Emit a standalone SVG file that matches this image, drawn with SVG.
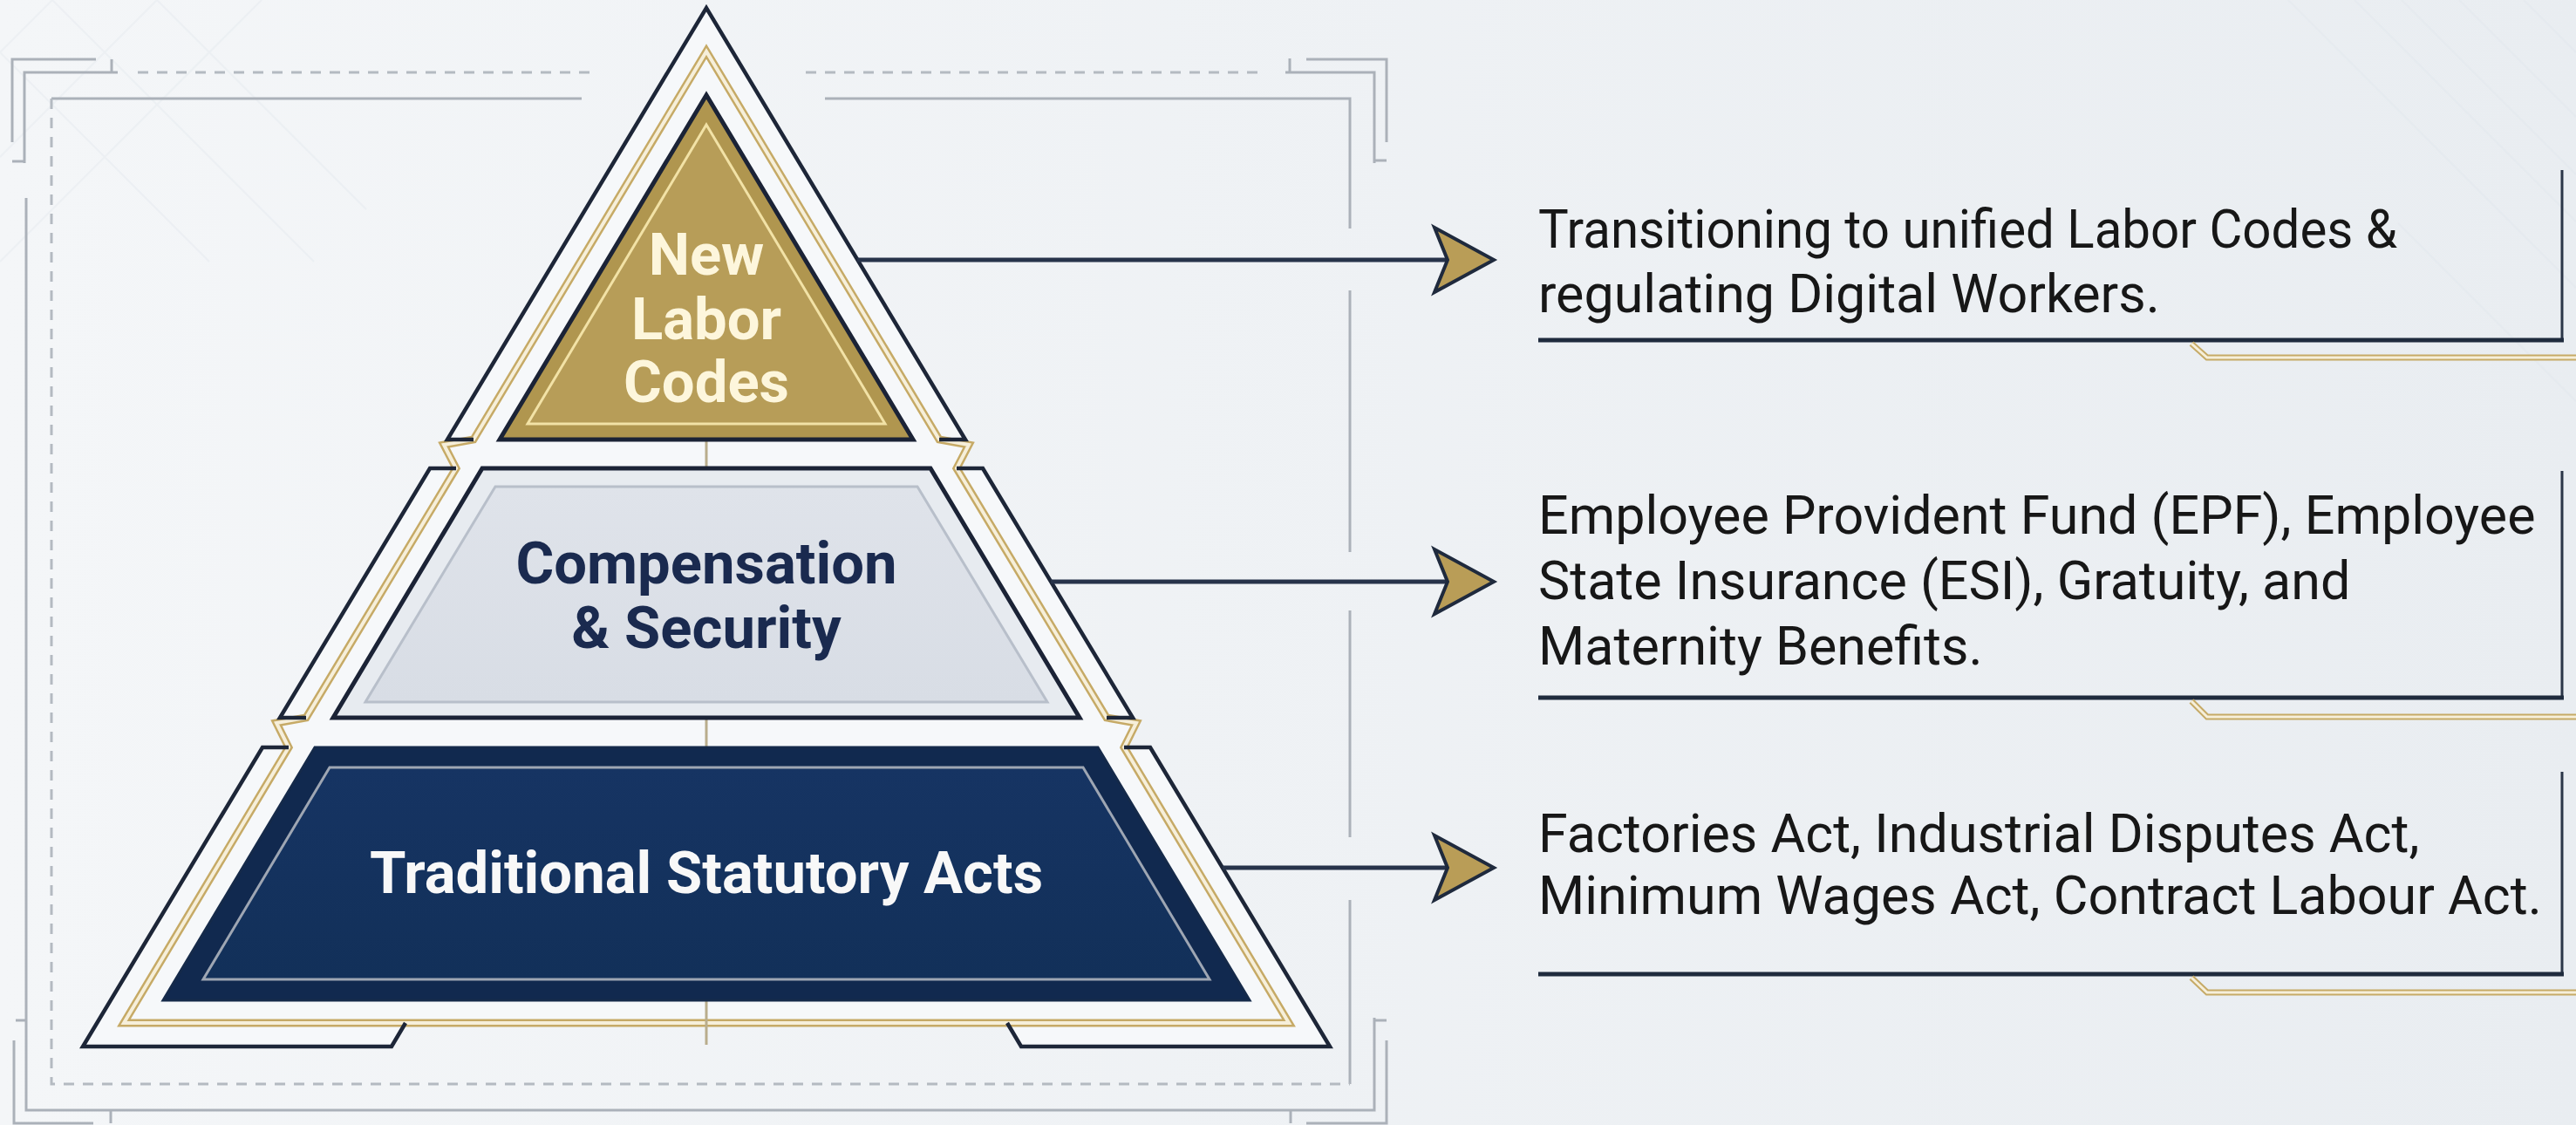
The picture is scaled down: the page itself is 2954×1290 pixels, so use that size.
<svg xmlns="http://www.w3.org/2000/svg" width="2954" height="1290" viewBox="0 0 2954 1290">
  <defs>
    <linearGradient id="bg" x1="0" y1="0" x2="1" y2="0">
      <stop offset="0" stop-color="#f4f6f8"/>
      <stop offset="1" stop-color="#e9edf1"/>
    </linearGradient>
    <linearGradient id="tier2Fill" x1="0" y1="0" x2="0" y2="1">
      <stop offset="0" stop-color="#dfe3ea"/>
      <stop offset="1" stop-color="#d8dde5"/>
    </linearGradient>
    <linearGradient id="tier3Fill" x1="0" y1="0" x2="0" y2="1">
      <stop offset="0" stop-color="#163463"/>
      <stop offset="1" stop-color="#123059"/>
    </linearGradient>
    <style>
      .frame { fill: none; stroke: #abb1b9; stroke-width: 3; }
      .dash { fill: none; stroke: #b4bac1; stroke-width: 3; stroke-dasharray: 12 10; }
      .outline { fill: none; stroke: #1d2638; stroke-width: 4.5; stroke-linejoin: miter; }
      .goldEdge { fill: none; stroke: #c6aa66; stroke-width: 9; stroke-linejoin: miter; }
      .goldCore { fill: none; stroke: #f6efda; stroke-width: 4; stroke-linejoin: miter; }
      .stem { stroke: #b9ad8c; stroke-width: 3; }
      .link { fill: none; stroke: #27334a; stroke-width: 5; }
      .head { fill: #b99d57; stroke: #1f2a3d; stroke-width: 4; stroke-linejoin: miter; }
      .label { font-family: Roboto, "Liberation Sans", Arial, sans-serif; font-weight: 700; font-size: 67px; text-anchor: middle; }
      .desc { font-family: Roboto, "Liberation Sans", Arial, sans-serif; font-size: 61px; fill: #171717; }
      .boxLine { fill: none; stroke: #1f2b3d; stroke-width: 5; }
      .boxSide { fill: none; stroke: #2a3547; stroke-width: 3; }
      .lattice { fill: none; stroke: #dfe4ea; stroke-width: 2; }
    </style>
  </defs>

  <!-- background -->
  <rect width="2954" height="1290" fill="url(#bg)"/>
  <g id="lattice" opacity="0.35">
    <path class="lattice" d="M0,60 L60,0 M0,180 L180,0 M0,300 L300,0 M60,0 L360,300 M0,60 L240,300 M180,0 L420,240"/>
    <path class="lattice" d="M2700,0 L2954,254 M2820,0 L2954,134 M2954,60 L2894,0 M2954,200 L2754,0 M2954,330 L2624,0 M2954,460 L2750,256"/>
  </g>

  <!-- decorative frame around the pyramid -->
  <g id="frame">
    <path class="frame" d="M110,68 H14 V163"/>
    <path class="frame" d="M135,83 H28 V187"/>
    <path class="frame" d="M128,68 V83 M14,185 H28"/>
    <path class="dash" d="M158,83 H686 M924,83 H1448"/>
    <path class="frame" d="M667,113 H59 M946,113 H1548 V262 M1548,333 V633 M1548,700 V960 M1548,1032 V1243"/>
    <path class="dash" d="M59,113 V1243 H1548"/>
    <path class="frame" d="M30,227 V1273 H1576 V1167"/>
    <path class="frame" d="M18,1170 H30 M1576,1170 H1590"/>
    <path class="frame" d="M16,1193 V1288 H107 M127,1273 V1288"/>
    <path class="frame" d="M1590,1193 V1288 H1498 M1480,1273 V1288"/>
    <path class="frame" d="M1498,68 H1590 V163"/>
    <path class="frame" d="M1474,83 H1576 V187"/>
    <path class="frame" d="M1479,67 V83 M1576,184 H1590"/>
  </g>

  <!-- pale body of the pyramid behind the tiers -->
  <path id="pyramid-body" fill="#f6f8fa" d="M810,9 L1107,504 L1077,504 L1111,510 L1097,537 L1127,537 L1299,823 L1269,823 L1303,829 L1289,857 L1319,857 L1525,1200 L1171,1200 L1155,1173 L465,1173 L449,1200 L95,1200 L301,857 L331,857 L317,829 L351,823 L321,823 L493,537 L523,537 L509,510 L543,504 L513,504 Z"/>

  <!-- gold rail running down both flanks and across the base -->
  <g id="gold-rail">
    <path class="goldEdge" d="M810,59 L543,504 L509,510 L523,537 L351,823 L317,829 L331,857 L142,1173 L1478,1173 L1289,857 L1303,829 L1269,823 L1097,537 L1111,510 L1077,504 Z"/>
    <path class="goldCore" d="M810,59 L543,504 L509,510 L523,537 L351,823 L317,829 L331,857 L142,1173 L1478,1173 L1289,857 L1303,829 L1269,823 L1097,537 L1111,510 L1077,504 Z"/>
  </g>

  <!-- outer dark outlines of each tier -->
  <g id="tier-outlines">
    <path class="outline" d="M543,504 H513 L810,9 L1107,504 H1077"/>
    <path class="outline" d="M523,537 H493 L321,823 H351"/>
    <path class="outline" d="M1097,537 H1127 L1299,823 H1269"/>
    <path class="outline" d="M331,857 H301 L95,1200 H449 L465,1173"/>
    <path class="outline" d="M1289,857 H1319 L1525,1200 H1171 L1155,1173"/>
  </g>

  <!-- centre stems between tiers -->
  <g id="stems">
    <line class="stem" x1="810" y1="504" x2="810" y2="537"/>
    <line class="stem" x1="810" y1="823" x2="810" y2="857"/>
    <line class="stem" x1="810" y1="1147" x2="810" y2="1198"/>
  </g>

  <g id="node-new-labor-codes">
    <polygon points="810,109 1047,504 573,504" fill="#b0964f" stroke="#1b2336" stroke-width="5"/>
    <polygon points="810,143 1015,486 605,486" fill="#b79d58" stroke="#f2e2a6" stroke-width="3"/>
    <text class="label" fill="#fdf6dc" x="810" y="315">New</text>
    <text class="label" fill="#fdf6dc" x="810" y="389">Labor</text>
    <text class="label" fill="#fdf6dc" x="810" y="461">Codes</text>
  </g>

  <g id="node-compensation-security">
    <polygon points="553,537 1067,537 1238,823 382,823" fill="#e7ebf0" stroke="#1b2336" stroke-width="5"/>
    <polygon points="568,558 1052,558 1201,805 419,805" fill="url(#tier2Fill)" stroke="#b8bfca" stroke-width="3"/>
    <text class="label" fill="#1a2a4f" x="810" y="669">Compensation</text>
    <text class="label" fill="#1a2a4f" x="810" y="743">&amp; Security</text>
  </g>

  <g id="node-traditional-acts">
    <polygon points="361,857 1259,857 1433,1147 187,1147" fill="#11294f" stroke="#152a4a" stroke-width="3"/>
    <polygon points="378,880 1242,880 1387,1123 233,1123" fill="url(#tier3Fill)" stroke="#9ea6b3" stroke-width="3"/>
    <text class="label" fill="#f8f8f8" x="810" y="1024" font-size="68">Traditional Statutory Acts</text>
  </g>

  <!-- connectors from each tier to its description -->
  <g id="connectors">
    <line class="link" x1="983" y1="298" x2="1662" y2="298"/>
    <polygon class="head" points="1645,261 1713,298 1645,335 1660,298"/>
    <line class="link" x1="1205" y1="667" x2="1662" y2="667"/>
    <polygon class="head" points="1645,630 1713,667 1645,704 1660,667"/>
    <line class="link" x1="1402" y1="995" x2="1662" y2="995"/>
    <polygon class="head" points="1645,958 1713,995 1645,1032 1660,995"/>
  </g>

  <g id="desc-new-labor-codes">
    <path class="boxSide" d="M2938,195 V390"/>
    <path class="boxLine" d="M1764,390 H2940"/>
    <path class="goldEdge" style="stroke-width:7" d="M2513,394 L2531,410 H2954"/>
    <path class="goldCore" style="stroke-width:3" d="M2513,394 L2531,410 H2954"/>
    <text class="desc" x="1764" y="284" textLength="985" lengthAdjust="spacingAndGlyphs">Transitioning to unified Labor Codes &amp;</text>
    <text class="desc" x="1764" y="358">regulating Digital Workers.</text>
  </g>

  <g id="desc-compensation-security">
    <path class="boxSide" d="M2938,540 V800"/>
    <path class="boxLine" d="M1764,800 H2940"/>
    <path class="goldEdge" style="stroke-width:7" d="M2513,804 L2531,822 H2954"/>
    <path class="goldCore" style="stroke-width:3" d="M2513,804 L2531,822 H2954"/>
    <text class="desc" x="1764" y="612">Employee Provident Fund (EPF), Employee</text>
    <text class="desc" x="1764" y="687">State Insurance (ESI), Gratuity, and</text>
    <text class="desc" x="1764" y="762">Maternity Benefits.</text>
  </g>

  <g id="desc-traditional-acts">
    <path class="boxSide" d="M2938,885 V1117"/>
    <path class="boxLine" d="M1764,1117 H2940"/>
    <path class="goldEdge" style="stroke-width:7" d="M2513,1121 L2531,1138 H2954"/>
    <path class="goldCore" style="stroke-width:3" d="M2513,1121 L2531,1138 H2954"/>
    <text class="desc" x="1764" y="977">Factories Act, Industrial Disputes Act,</text>
    <text class="desc" x="1764" y="1048">Minimum Wages Act, Contract Labour Act.</text>
  </g>
</svg>
